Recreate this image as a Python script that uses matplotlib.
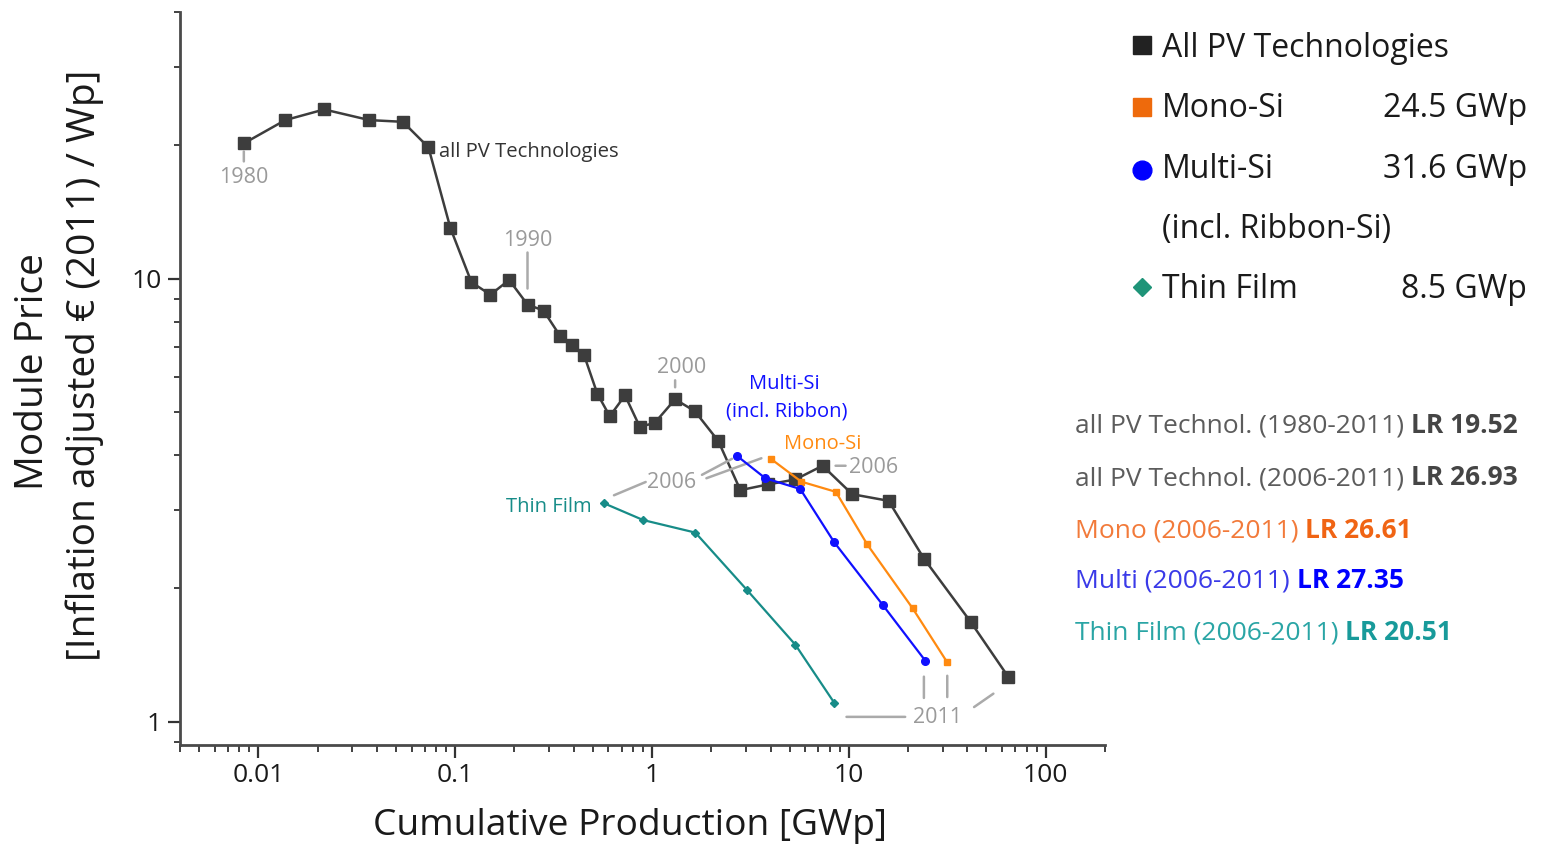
import numpy as np
import matplotlib
matplotlib.use('Agg')
import matplotlib.pyplot as plt
from matplotlib import ticker
from matplotlib.lines import Line2D
from matplotlib.transforms import offset_copy

plt.rcParams['font.family'] = ['Open Sans', 'DejaVu Sans']

# cumulative production [GWp] and module price [EUR2011/Wp]
all_x = [0.00844, 0.0137, 0.0216, 0.0367, 0.0542, 0.0731, 0.0946, 0.121, 0.151, 0.188,
         0.233, 0.281, 0.340, 0.394, 0.452, 0.527, 0.610, 0.729, 0.866, 1.03,
         1.31, 1.65, 2.17, 2.81, 3.88, 5.35, 7.35, 10.4, 15.9, 24.1, 41.5, 64.6]
all_y = [20.2, 22.8, 24.1, 22.8, 22.6, 19.8, 13.0, 9.81, 9.2, 9.93,
         8.74, 8.47, 7.44, 7.10, 6.71, 5.50, 4.89, 5.45, 4.63, 4.72,
         5.34, 5.02, 4.30, 3.33, 3.43, 3.52, 3.78, 3.26, 3.15, 2.33, 1.68, 1.26]

mono_x = [4.04, 5.73, 8.59, 12.4, 21.1, 31.6]
mono_y = [3.91, 3.48, 3.30, 2.51, 1.80, 1.36]

multi_x = [2.70, 3.77, 5.66, 8.42, 14.9, 24.5]
multi_y = [3.98, 3.54, 3.35, 2.54, 1.83, 1.37]

thin_x = [0.570, 0.902, 1.66, 3.04, 5.35, 8.45]
thin_y = [3.11, 2.85, 2.67, 1.98, 1.49, 1.10]

legend_labels = ['All PV Technologies', 'Mono-Si', 'Multi-Si', '(incl. Ribbon-Si)', 'Thin Film']
legend_values = ['', '24.5 GWp', '31.6 GWp', '', '8.5 GWp']

lr_text = ['all PV Technol. (1980-2011)', 'all PV Technol. (2006-2011)',
           'Mono (2006-2011)', 'Multi (2006-2011)', 'Thin Film (2006-2011)']
lr_value = ['LR 19.52', 'LR 26.93', 'LR 26.61', 'LR 27.35', 'LR 20.51']

W, H = 1543, 848
c_all = '#3d3d3d'
c_mono = '#ff8a10'
c_multi = '#1010ff'
c_thin = '#178c88'
c_year = '#9a9a9a'
c_lead = '#aaaaaa'

fig = plt.figure(figsize=(W / 100, H / 100), dpi=100)
ax = fig.add_axes([180 / W, 1 - 745 / H, 925 / W, 733 / H])

ax.plot(all_x, all_y, '-s', color=c_all, lw=1.8, ms=8, zorder=3)
ax.plot(mono_x, mono_y, '-s', color=c_mono, lw=1.6, ms=4.5, zorder=4)
ax.plot(multi_x, multi_y, '-o', color=c_multi, lw=1.6, ms=5.5, zorder=5)
ax.plot(thin_x, thin_y, '-D', color=c_thin, lw=1.6, ms=4, zorder=4)

ax.set_xscale('log')
ax.set_yscale('log')
ax.set_xlim(0.004, 200)
ax.set_ylim(0.885, 40)

fmt = ticker.FuncFormatter(lambda v, p: f'{v:g}')
for axis in (ax.xaxis, ax.yaxis):
    axis.set_major_locator(ticker.LogLocator(base=10, numticks=12))
    axis.set_minor_locator(ticker.LogLocator(base=10, subs=np.arange(2, 10), numticks=12))
    axis.set_major_formatter(fmt)
    axis.set_minor_formatter(ticker.NullFormatter())

for s in ['top', 'right']:
    ax.spines[s].set_visible(False)
for s in ['left', 'bottom']:
    ax.spines[s].set_color('#4a4a4a')
    ax.spines[s].set_linewidth(2)

ax.tick_params(which='major', direction='out', length=9, width=1.6, color='#333333',
               labelsize=19, labelcolor='#1a1a1a', pad=4)
ax.tick_params(axis='x', which='minor', direction='out', length=5, width=1.3, color='#333333')
ax.tick_params(axis='y', which='minor', direction='out', length=4, width=1.3, color='#333333')

# axis titles
fig.text(33 / W, 1 - 372 / H, 'Module Price', rotation=90, ha='center', va='center',
         fontsize=28, color='#1a1a1a')
fig.text(85 / W, 1 - 365 / H, '[Inflation adjusted \u20ac (2011) / Wp]', rotation=90,
         ha='center', va='center', fontsize=28, color='#1a1a1a')
fig.text(630 / W, 1 - 835 / H, 'Cumulative Production [GWp]', ha='center', va='baseline',
         fontsize=26.7, color='#1a1a1a')


def label(txt, x, y, dx, dy, color, size, ha='center'):
    ax.annotate(txt, xy=(x, y), xytext=(dx, dy), textcoords='offset pixels',
                ha=ha, va='baseline', fontsize=size, color=color)


def leader(x, y, d1, d2):
    t1 = offset_copy(ax.transData, fig=fig, x=d1[0], y=d1[1], units='dots')
    t2 = offset_copy(ax.transData, fig=fig, x=d2[0], y=d2[1], units='dots')
    ax.annotate('', xy=(x, y), xycoords=t1, xytext=(x, y), textcoords=t2,
                arrowprops=dict(arrowstyle='-', color=c_lead, lw=1.8, shrinkA=0, shrinkB=0))


# year labels
label('1980', all_x[0], all_y[0], 0, -40, c_year, 15.5)
leader(all_x[0], all_y[0], (0, -8), (0, -18))
label('1990', all_x[10], all_y[10], 0, 59, c_year, 15.5)
leader(all_x[10], all_y[10], (0, 52), (0, 16))
label('2000', all_x[20], all_y[20], 7, 26, c_year, 15.5)
leader(all_x[20], all_y[20], (0, 19), (0, 12))
label('2006', all_x[26], all_y[26], 26, -7, c_year, 15.5, ha='left')
leader(all_x[26], all_y[26], (13, 0), (23, 0))

label('2006', thin_x[0], thin_y[0], 68, 15, c_year, 15.5)
leader(thin_x[0], thin_y[0], (10, 8), (41.7, 21.3))
leader(multi_x[0], multi_y[0], (-35, -19), (-5, -3))
leader(mono_x[0], mono_y[0], (-65, -19), (-10, 1))

label('2011', thin_x[-1], thin_y[-1], 103, -20, c_year, 15.5)
leader(thin_x[-1], thin_y[-1], (12, -13.7), (70.7, -13.7))
leader(multi_x[-1], multi_y[-1], (-1.6, -15.7), (-1.6, -37))
leader(mono_x[-1], mono_y[-1], (0, -13.4), (0, -34.7))
leader(all_x[-1], all_y[-1], (-34.3, -30), (-15, -16.6))

# series names in the plot
label('all PV Technologies', all_x[5], all_y[5], 11, -10, '#333333', 14.6, ha='left')
label('Multi-Si', multi_x[0], multi_y[0], 47, 67, c_multi, 14.5)
label('(incl. Ribbon)', multi_x[0], multi_y[0], 49.5, 39, c_multi, 14.5)
label('Mono-Si', mono_x[0], mono_y[0], 51, 10, c_mono, 14.5)
label('Thin Film', thin_x[0], thin_y[0], -12, -9, c_thin, 14.5, ha='right')

# legend on the right
leg_markers = [('s', '#222222', 13.5), ('s', '#ee6a0c', 13.5), ('o', '#0000ff', 13.5),
               None, ('D', '#1e9478', 9)]
leg_base = [57, 117, 178, 238, 298]
leg_center = [45, 107, 170, 228, 287]
for i, lab in enumerate(legend_labels):
    fig.text(1162 / W, 1 - leg_base[i] / H, lab, ha='left', va='baseline',
             fontsize=23, color='#1a1a1a')
    if legend_values[i]:
        fig.text(1527 / W, 1 - leg_base[i] / H, legend_values[i], ha='right', va='baseline',
                 fontsize=23, color='#1a1a1a')
    if leg_markers[i]:
        m, c, s = leg_markers[i]
        fig.add_artist(Line2D([1142 / W], [1 - leg_center[i] / H], marker=m, color=c,
                              markersize=s, linestyle='none', transform=fig.transFigure))

# learning rates
lr_colors = [('#5c5c5c', '#454545'), ('#5c5c5c', '#454545'), ('#f27a3a', '#f06414'),
             ('#3a3ae8', '#0000ff'), ('#2aa5a5', '#189a9a')]
lr_base = [433, 485, 538, 588, 640]
for i in range(len(lr_text)):
    t = fig.text(1075 / W, 1 - lr_base[i] / H, lr_text[i], ha='left', va='baseline',
                 fontsize=19, color=lr_colors[i][0])
    ax.annotate(lr_value[i], xy=(1, 0), xycoords=t, xytext=(5, 0), textcoords='offset points',
                ha='left', va='bottom', fontsize=19, fontweight='bold', color=lr_colors[i][1])

fig.savefig('out.png', dpi=100)
